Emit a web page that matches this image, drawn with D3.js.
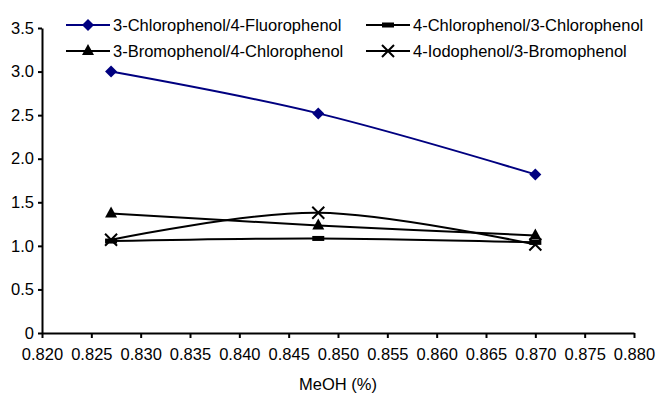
<!DOCTYPE html>
<html><head><meta charset="utf-8">
<script src="https://cdn.jsdelivr.net/npm/d3@7"></script>
<style>body{margin:0;background:#fff}svg{display:block}</style>
</head><body>
<svg id="c" width="660" height="394"></svg>
<script>
const xValues = [0.827, 0.848, 0.870];
const s1 = [3.00, 2.52, 1.82];   // 3-Chlorophenol/4-Fluorophenol
const s2 = [1.055, 1.085, 1.04]; // 4-Chlorophenol/3-Chlorophenol
const s3 = [1.37, 1.235, 1.12];  // 3-Bromophenol/4-Chlorophenol
const s4 = [1.07, 1.38, 1.015];  // 4-Iodophenol/3-Bromophenol
const seriesNames = ["3-Chlorophenol/4-Fluorophenol","4-Chlorophenol/3-Chlorophenol","3-Bromophenol/4-Chlorophenol","4-Iodophenol/3-Bromophenol"];
const xTicks = [0.820,0.825,0.830,0.835,0.840,0.845,0.850,0.855,0.860,0.865,0.870,0.875,0.880];
const yTicks = [0,0.5,1.0,1.5,2.0,2.5,3.0,3.5];
const xTitle = "MeOH (%)";

const svg = d3.select("#c");
const font = "'Liberation Sans', Arial, sans-serif";
const fs = 16.5;
const x = d3.scaleLinear().domain([0.820,0.880]).range([42,634]);
const y = d3.scaleLinear().domain([0,3.5]).range([333,28]);

const series = [
  {name:seriesNames[0], vals:s1, color:"#000080", marker:"diamond"},
  {name:seriesNames[1], vals:s2, color:"#000", marker:"dash"},
  {name:seriesNames[2], vals:s3, color:"#000", marker:"triangle"},
  {name:seriesNames[3], vals:s4, color:"#000", marker:"cross"}
];

// axes
const xAxis = svg.append("g").attr("transform","translate(0,333)")
  .call(d3.axisBottom(x).tickValues(xTicks).tickFormat(d3.format(".3f")).tickSize(5).tickSizeOuter(0));
const yAxis = svg.append("g").attr("transform","translate(42,0)")
  .call(d3.axisLeft(y).tickValues(yTicks).tickFormat(d=> d===0?"0":d3.format(".1f")(d)).tickSize(4).tickSizeOuter(0));
[xAxis,yAxis].forEach(a=>{
  a.select(".domain").attr("stroke","#000").attr("stroke-width",2);
  a.selectAll(".tick line").attr("stroke","#000").attr("stroke-width",2);
  a.selectAll("text").attr("font-family",font).attr("font-size",fs).attr("fill","#000");
});
xAxis.selectAll("text").attr("dy","0.71em").attr("y",15);
yAxis.selectAll("text").attr("x",-8);

svg.append("text").attr("x",338).attr("y",390).attr("text-anchor","middle")
  .attr("font-family",font).attr("font-size",fs).text(xTitle);

function drawMarker(g, type, cx, cy, color){
  if(type==="diamond"){
    g.append("path").attr("d",`M${cx},${cy-6}L${cx+6},${cy}L${cx},${cy+6}L${cx-6},${cy}Z`).attr("fill",color);
  } else if(type==="triangle"){
    g.append("path").attr("d",`M${cx},${cy-7}L${cx+6},${cy+4}L${cx-6},${cy+4}Z`).attr("fill",color);
  } else if(type==="dash"){
    g.append("rect").attr("x",cx-6).attr("y",cy-2.5).attr("width",12).attr("height",5).attr("fill",color);
  } else if(type==="cross"){
    g.append("path").attr("d",`M${cx-6},${cy-6}L${cx+6},${cy+6}M${cx+6},${cy-6}L${cx-6},${cy+6}`)
      .attr("stroke",color).attr("stroke-width",2).attr("fill","none");
  }
}

const line = d3.line().x((d,i)=>x(xValues[i])).y(d=>y(d)).curve(d3.curveCatmullRom.alpha(0));
const plot = svg.append("g");
series.forEach(s=>{
  plot.append("path").attr("d",line(s.vals)).attr("fill","none").attr("stroke",s.color).attr("stroke-width",2);
});
series.forEach(s=>{
  s.vals.forEach((v,i)=>drawMarker(plot,s.marker,x(xValues[i]),y(v),s.color));
});

// legend
const legPos = [[66,25],[366,25],[66,51],[366,51]];
series.forEach((s,k)=>{
  const [lx,ly] = legPos[k];
  const g = svg.append("g");
  g.append("line").attr("x1",lx).attr("x2",lx+44).attr("y1",ly).attr("y2",ly).attr("stroke",s.color).attr("stroke-width",2);
  drawMarker(g,s.marker,lx+22,ly,s.color);
  g.append("text").attr("x",lx+47).attr("y",ly).attr("dy","0.35em").attr("font-family",font).attr("font-size",fs).text(s.name);
});
</script>
</body></html>
